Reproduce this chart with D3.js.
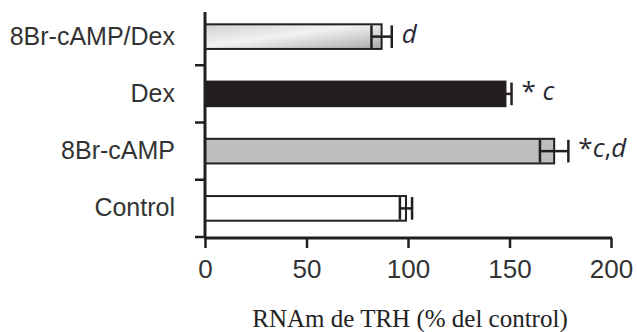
<!DOCTYPE html>
<meta charset="utf-8">
<style>
 body { margin: 0; background: #fff; }
 svg { font-family: "Open Sans", sans-serif; }
 .axis path, .axis line { stroke: #231f20; }
 .axis text { fill: #333; }
 .bar { stroke: #231f20; stroke-width: 2; }
 .err { stroke: #231f20; stroke-width: 2.5; fill: none; }
 .note { fill: #2a2a35; font-size: 26px; }
 .xlabel { font-family: "Liberation Serif", serif; font-size: 25px; fill: #222; }
</style>
<svg width="637" height="332"></svg>
<script src="https://cdn.jsdelivr.net/npm/d3@7"></script>
<script>
 var categories = ["8Br-cAMP/Dex", "Dex", "8Br-cAMP", "Control"]
 var values = [87, 148, 172, 99]
 var errors = [5, 3, 7, 3]
 var notes = ["d", "* c", "*c,d", ""]
 var xTicks = [0, 50, 100, 150, 200]
 var fills = ["url(#silver)", "#231f20", "#bdbec0", "#fff"]

 var svg = d3.select("svg")
 var x = d3.scaleLinear().domain([0, 200]).range([205, 611])
 var y = d3.scaleBand().domain(categories).range([8, 237]).paddingInner(0.57).paddingOuter(0.285)

 var grad = svg.append("defs").append("linearGradient")
   .attr("id", "silver").attr("x1", 0).attr("y1", 0).attr("x2", 1).attr("y2", 1)
 grad.append("stop").attr("offset", "0%").attr("stop-color", "#cfcfcf")
 grad.append("stop").attr("offset", "45%").attr("stop-color", "#f2f2f2")
 grad.append("stop").attr("offset", "100%").attr("stop-color", "#a9a9a9")

 var data = categories.map((c, i) => ({ cat: c, v: values[i], e: errors[i], note: notes[i], fill: fills[i] }))

 // bars
 svg.selectAll(".bar").data(data).join("rect")
   .attr("class", "bar")
   .attr("x", x(0))
   .attr("y", d => y(d.cat))
   .attr("width", d => x(d.v) - x(0))
   .attr("height", y.bandwidth())
   .attr("fill", d => d.fill)

 // error bars
 var eg = svg.selectAll(".errg").data(data).join("g").attr("class", "err")
 var cy = d => y(d.cat) + y.bandwidth() / 2
 var ch = y.bandwidth() / 2 - 1
 eg.append("line").attr("x1", d => x(d.v - d.e)).attr("x2", d => x(d.v + d.e))
   .attr("y1", cy).attr("y2", cy)
 eg.append("line").attr("x1", d => x(d.v - d.e)).attr("x2", d => x(d.v - d.e))
   .attr("y1", d => cy(d) - ch).attr("y2", d => cy(d) + ch)
 eg.append("line").attr("x1", d => x(d.v + d.e)).attr("x2", d => x(d.v + d.e))
   .attr("y1", d => cy(d) - ch).attr("y2", d => cy(d) + ch)

 // annotations
 var nt = svg.selectAll(".note").data(data).join("text")
   .attr("class", "note")
   .attr("x", d => x(d.v + d.e) + 10)
   .attr("y", d => cy(d) + 6)
 nt.each(function (d) {
   var t = d3.select(this)
   d.note.split("").forEach(ch => {
     t.append("tspan").text(ch)
       .style("font-style", /[a-z]/.test(ch) ? "italic" : "normal")
   })
 })

 // x axis
 var xa = svg.append("g").attr("class", "axis")
   .attr("transform", "translate(0,238)")
   .call(d3.axisBottom(x).tickValues(xTicks).tickSize(10).tickSizeOuter(0).tickPadding(12))
 xa.select(".domain").attr("stroke-width", 3).attr("d", `M${x(0) - 1},0H${x(200) + 1}`)
 xa.selectAll("line").attr("stroke-width", 2.5)
 xa.selectAll("text").style("font-size", "26px")

 // y axis
 var ya = svg.append("g").attr("class", "axis")
   .attr("transform", `translate(${x(0)},0)`)
   .call(d3.axisLeft(y).tickSize(0).tickPadding(30))
 ya.select(".domain").attr("stroke-width", 3).attr("d", "M0,12V238")
 ya.selectAll("text").style("font-size", "25px")
 var bounds = categories.map(c => y(c) + y.bandwidth() + y.step() * y.paddingInner() / 2)
 ya.selectAll(".btick").data(bounds).join("line")
   .attr("x1", -10).attr("x2", 0).attr("y1", d => d).attr("y2", d => d)
   .attr("stroke-width", 2.5)

 svg.append("text").attr("class", "xlabel")
   .attr("x", (x(0) + x(200)) / 2 + 2).attr("y", 327)
   .attr("text-anchor", "middle")
   .text("RNAm de TRH (% del control)")
</script>
